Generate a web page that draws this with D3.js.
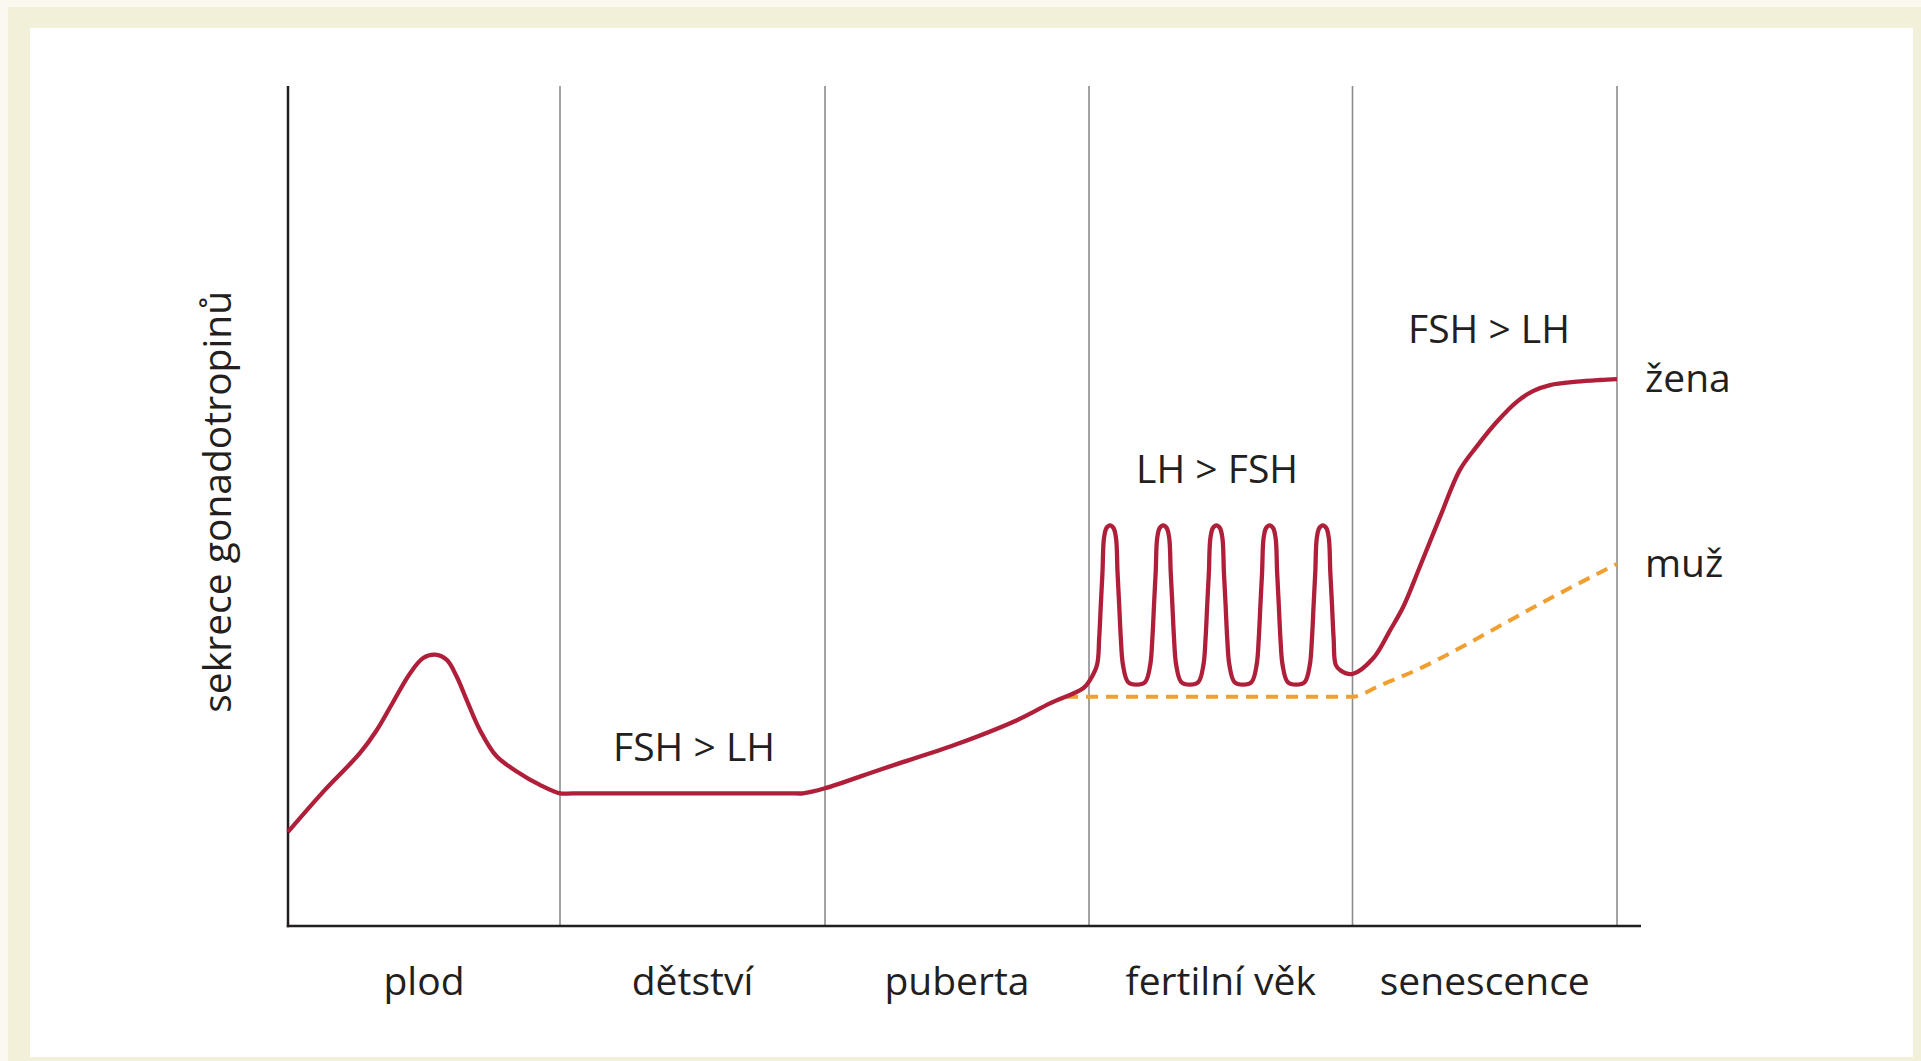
<!DOCTYPE html>
<html>
<head>
<meta charset="utf-8">
<title>Sekrece gonadotropinů</title>
<style>
html, body {
  margin: 0;
  padding: 0;
  background: #fbf9ef;
}
svg text {
  font-family: 'Open Sans', sans-serif;
  fill: #231f20;
}
.axis-line {
  stroke: #231f20;
  stroke-width: 2.5px;
}
.divider {
  stroke: #8c8c8c;
  stroke-width: 1.6px;
}
.zena {
  fill: none;
  stroke: #b01f3a;
  stroke-width: 4.3px;
}
.muz {
  fill: none;
  stroke: #f0a030;
  stroke-width: 4px;
  stroke-dasharray: 12 8;
}
</style>
<script src="https://d3js.org/d3.v7.min.js"></script>
</head>
<body>
<svg width="1921" height="1061"></svg>
<script>

// life stages, one section each on the x axis
var stages = ["plod", "dětství", "puberta", "fertilní věk", "senescence"];

// red curve: [stage position, secretion]
var zena = [
  [0, 11.2], [0.13, 16.0], [0.265, 20.6], [0.326, 23.3], [0.387, 26.7],
  [0.449, 30.1], [0.497, 31.9], [0.540, 32.3], [0.583, 31.7], [0.620, 29.7],
  [0.657, 26.9], [0.706, 23.3], [0.767, 20.2], [0.841, 18.4], [0.926, 16.8],
  [1.0, 15.8], [1.05, 15.8], [1.5, 15.8], [1.87, 15.8], [1.917, 15.8],
  [2.0, 16.4], [2.216, 18.7], [2.495, 21.6],
  [2.727, 24.5], [2.852, 26.5], [2.978, 28.3], [3.004, 29.3],
  // fertile age, five cycles
  [3.0304, 31.07], [3.0387, 34.29], [3.0448, 38.21], [3.0512, 42.14], [3.0569, 46.19],
  [3.0664, 47.38], [3.0797, 47.70], [3.0930, 47.38], [3.1025, 46.19], [3.1082, 42.14],
  [3.1146, 38.21], [3.1207, 34.29], [3.1290, 31.07], [3.1480, 29.05], [3.1806, 28.73],
  [3.2133, 29.05], [3.2323, 31.07], [3.2406, 34.29], [3.2467, 38.21], [3.2531, 42.14],
  [3.2588, 46.19], [3.2683, 47.38], [3.2816, 47.70], [3.2949, 47.38], [3.3044, 46.19],
  [3.3101, 42.14], [3.3165, 38.21], [3.3226, 34.29], [3.3309, 31.07], [3.3499, 29.05],
  [3.3826, 28.73],
  [3.4152, 29.05], [3.4342, 31.07], [3.4425, 34.29], [3.4486, 38.21], [3.4550, 42.14],
  [3.4607, 46.19], [3.4702, 47.38], [3.4835, 47.70], [3.4968, 47.38], [3.5063, 46.19],
  [3.5120, 42.14], [3.5184, 38.21], [3.5245, 34.29], [3.5328, 31.07], [3.5518, 29.05],
  [3.5845, 28.73],
  [3.6171, 29.05], [3.6361, 31.07], [3.6444, 34.29], [3.6505, 38.21], [3.6569, 42.14],
  [3.6626, 46.19], [3.6721, 47.38], [3.6854, 47.70], [3.6987, 47.38], [3.7082, 46.19],
  [3.7139, 42.14], [3.7203, 38.21], [3.7264, 34.29], [3.7347, 31.07], [3.7537, 29.05],
  [3.7864, 28.73],
  [3.8190, 29.05], [3.8380, 31.07], [3.8463, 34.29], [3.8524, 38.21], [3.8588, 42.14],
  [3.8645, 46.19], [3.8740, 47.38], [3.8873, 47.70], [3.9006, 47.38], [3.9101, 46.19],
  [3.9158, 42.14], [3.9222, 38.21], [3.9283, 34.29], [3.9366, 31.07], [3.9556, 30.4],
  [4.0, 30.0],
  // senescence
  [4.079, 31.9], [4.142, 35.2], [4.192, 38.0], [4.255, 42.8], [4.331, 48.7],
  [4.406, 54.3], [4.470, 57.1], [4.545, 60.0], [4.621, 62.4], [4.684, 63.7],
  [4.747, 64.4], [4.848, 64.8], [4.936, 65.0], [5.0, 65.1]
];

// orange dashed curve
var muz = [
  [2.913, 27.3], [3.0, 27.3], [4.0, 27.3], [4.101, 28.6], [4.251, 30.6],
  [4.400, 33.0], [4.550, 35.6], [4.700, 38.2], [4.850, 40.7], [5.0, 43.1]
];

var seriesLabels = ["žena", "muž"];

var notes = [
  { text: "FSH > LH", x: 1.506, y: 19.6 },
  { text: "LH > FSH", x: 3.486, y: 52.7 },
  { text: "FSH > LH", x: 4.516, y: 69.4 }
];

var yTitle = "sekrece gonadotropinů";

var svg = d3.select("svg");

// frame
svg.append("rect")
    .attr("x", 8).attr("y", 7)
    .attr("width", 1913).attr("height", 1054)
    .attr("fill", "#f3f0d9");
svg.append("rect")
    .attr("x", 30).attr("y", 28)
    .attr("width", 1883).attr("height", 1029)
    .attr("fill", "#ffffff");

var x = d3.scaleLinear()
    .domain([0, 1, 2, 3, 4, 5])
    .range([288, 560, 825, 1089, 1352.5, 1617]);

var y = d3.scaleLinear()
    .domain([0, 100])
    .range([926, 86]);

// section dividers
svg.selectAll(".divider")
    .data(d3.range(1, stages.length + 1))
  .enter().append("line")
    .attr("class", "divider")
    .attr("x1", function(d) { return x(d); })
    .attr("x2", function(d) { return x(d); })
    .attr("y1", y(100))
    .attr("y2", y(0));

// axes
svg.append("line")
    .attr("class", "axis-line")
    .attr("x1", x(0)).attr("x2", x(0))
    .attr("y1", y(100)).attr("y2", y(0) + 1.2);
svg.append("line")
    .attr("class", "axis-line")
    .attr("x1", x(0) - 1.2).attr("x2", x(5) + 24)
    .attr("y1", y(0)).attr("y2", y(0));

svg.selectAll(".stage")
    .data(stages)
  .enter().append("text")
    .attr("class", "stage")
    .attr("x", function(d, i) { return x(i + 0.5); })
    .attr("y", y(0) + 69)
    .attr("text-anchor", "middle")
    .style("font-size", "39px")
    .text(function(d) { return d; });

svg.append("text")
    .attr("transform", "translate(231," + y(50.5) + ") rotate(-90)")
    .attr("text-anchor", "middle")
    .style("font-size", "39px")
    .text(yTitle);

// smooth curve through the read points (red), monotone for the dashed one
var lineZena = d3.line()
    .x(function(d) { return x(d[0]); })
    .y(function(d) { return y(d[1]); })
    .curve(d3.curveCatmullRom.alpha(0.5));

var lineMuz = d3.line()
    .x(function(d) { return x(d[0]); })
    .y(function(d) { return y(d[1]); })
    .curve(d3.curveMonotoneX);

svg.append("path")
    .datum(muz)
    .attr("class", "muz")
    .attr("d", lineMuz);

svg.append("path")
    .datum(zena)
    .attr("class", "zena")
    .attr("d", lineZena);

[zena, muz].forEach(function(s, i) {
  var last = s[s.length - 1];
  svg.append("text")
      .attr("x", x(last[0]) + 28)
      .attr("y", y(last[1]) + 13)
      .style("font-size", "39px")
      .text(seriesLabels[i]);
});

svg.selectAll(".note")
    .data(notes)
  .enter().append("text")
    .attr("class", "note")
    .attr("x", function(d) { return x(d.x); })
    .attr("y", function(d) { return y(d.y); })
    .attr("text-anchor", "middle")
    .style("font-size", "39px")
    .text(function(d) { return d.text; });

</script>
</body>
</html>
